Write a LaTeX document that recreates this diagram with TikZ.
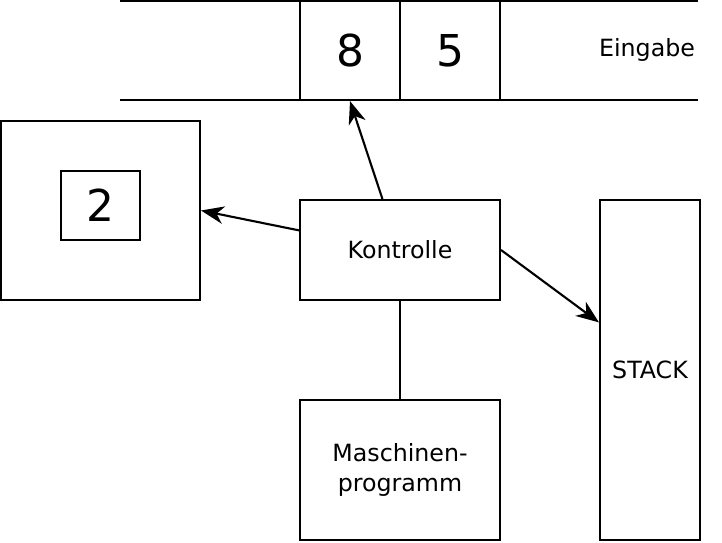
\documentclass[tikz,border=0pt]{standalone}
\usepackage{fontspec}
\setmainfont{DejaVu Sans}
\usetikzlibrary{arrows.meta}

\begin{document}
\begin{tikzpicture}[x=0.02cm, y=-0.02cm, line width=1.2pt,
    box/.style={rectangle, draw, inner sep=0pt, font=\fontsize{13.5}{17}\selectfont},
    cell/.style={box, minimum width=2cm, minimum height=1.98cm, font=\fontsize{25}{28}\selectfont},
    arr/.style={-{Stealth[length=13pt, width=10pt, inset=4pt]}}]
    \useasboundingbox (0, 0) rectangle (722, 542);

    %Eingabeband
    \coordinate (tl) at (120, 1);
    \coordinate (tr) at (698, 1);
    \coordinate (bl) at (120, 100);
    \coordinate (br) at (698, 100);
    \draw (tl) -- (tr);
    \draw (bl) -- (br);
    \node at (350, 50.5) [cell] (c8) {8};
    \node at (450, 50.5) [cell] (c5) {5};
    \node at (647, 50) [font=\fontsize{13.5}{17}\selectfont] (ein) {Eingabe};

    %Kaesten
    \node at (100.5, 210.5) [box, minimum width=3.98cm, minimum height=3.58cm] (reg) {};
    \node at (100.5, 205.5) [box, minimum width=1.58cm, minimum height=1.38cm, font=\fontsize{25}{28}\selectfont] (val) {2};
    \node at (400, 250) [box, minimum width=4cm, minimum height=2cm] (ctrl) {Kontrolle};
    \node at (400, 470) [box, minimum width=4cm, minimum height=2.8cm, align=center] (prog) {Maschinen-\\programm};
    \node at (650, 370) [box, minimum width=2cm, minimum height=6.8cm] (stack) {STACK};

    %Verbindungen
    \draw [arr] (ctrl.109) -- (c8.south);
    \draw [arr] (ctrl.169) -- (reg.east);
    \draw [arr] (ctrl.east) -- (stack.137);
    \draw (ctrl.south) -- (prog.north);

\end{tikzpicture}
\end{document}
